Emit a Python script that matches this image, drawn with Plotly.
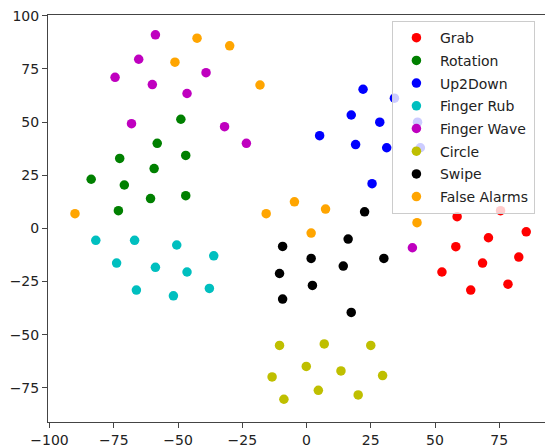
import plotly.graph_objects as go

labels = ["Grab", "Rotation", "Up2Down", "Finger Rub", "Finger Wave", "Circle", "Swipe", "False Alarms"]
colors = ["#ff0000", "#008000", "#0000ff", "#00bfbf", "#bf00bf", "#bfbf00", "#000000", "#ffa500"]

grab_x = [58.6, 75.5, 85.5, 70.8, 58.1, 82.6, 68.5, 52.7, 78.4, 63.9]
grab_y = [5.5, 8.3, -1.6, -4.4, -8.6, -13.5, -16.3, -20.5, -26.2, -29.0]

rotation_x = [-48.9, -58.1, -72.7, -47.0, -59.3, -83.8, -70.9, -60.7, -47.0, -73.2]
rotation_y = [51.3, 40.0, 32.9, 34.3, 28.1, 23.1, 20.4, 14.0, 15.4, 8.3]

up2down_x = [22.0, 17.4, 28.5, 5.1, 19.1, 31.2, 25.5, 34.2, 43.2, 44.3]
up2down_y = [65.4, 53.3, 49.9, 43.6, 39.4, 37.9, 21.0, 61.2, 49.9, 37.9]

fingerrub_x = [-82.0, -66.9, -50.5, -36.1, -73.9, -58.8, -46.5, -66.2, -51.8, -37.8]
fingerrub_y = [-5.6, -5.6, -7.8, -12.9, -16.3, -18.3, -20.5, -29.0, -31.7, -28.2]

fingerwave_x = [-58.8, -65.3, -74.5, -39.1, -60.0, -46.5, -68.1, -31.9, -23.4, 41.2]
fingerwave_y = [91.0, 79.5, 71.0, 73.2, 67.6, 63.4, 49.2, 47.8, 40.0, -9.1]

circle_x = [-10.5, 6.9, 25.0, -0.1, 13.4, -13.4, 29.6, 4.6, 20.1, -8.8]
circle_y = [-55.0, -54.3, -55.0, -64.9, -67.0, -69.8, -69.2, -76.1, -78.3, -80.3]

swipe_x = [22.6, 16.2, -9.3, 1.8, 14.3, 30.1, -10.5, 2.3, -9.3, 17.4]
swipe_y = [7.8, -5.0, -8.5, -14.1, -17.7, -14.1, -21.2, -26.8, -33.2, -39.5]

false_x = [-42.6, -29.9, -51.2, -18.1, -90.1, -15.7, -4.7, 7.4, 1.8, 43.0]
false_y = [89.4, 85.8, 78.1, 67.4, 6.9, 6.9, 12.5, 9.1, -2.2, 2.7]

xs = [grab_x, rotation_x, up2down_x, fingerrub_x, fingerwave_x, circle_x, swipe_x, false_x]
ys = [grab_y, rotation_y, up2down_y, fingerrub_y, fingerwave_y, circle_y, swipe_y, false_y]

x_ticks = [-100, -75, -50, -25, 0, 25, 50, 75]
y_ticks = [-75, -50, -25, 0, 25, 50, 75, 100]

fig = go.Figure()
for i, (lab, col) in enumerate(zip(labels, colors)):
    fig.add_trace(go.Scatter(
        x=xs[i], y=ys[i], mode="markers", name=lab,
        legendgroup=lab,
        marker=dict(color=col, size=9.5, line=dict(width=0)),
    ))

axis_common = dict(
    showgrid=False, zeroline=False, showline=True, linecolor="#444444", linewidth=1,
    ticks="outside", ticklen=5, tickwidth=1, tickcolor="#444444",
    tickfont=dict(family="DejaVu Sans", size=14, color="#222222"),
)
fig.update_xaxes(range=[-100.6, 92.8], tickvals=x_ticks, mirror=True, **axis_common)
fig.update_yaxes(range=[-91.0, 100.3], tickvals=y_ticks, mirror=False, **axis_common)

fig.update_layout(
    width=545, height=447,
    margin=dict(l=48, r=0, t=15, b=25),
    plot_bgcolor="white", paper_bgcolor="white",
    font=dict(family="DejaVu Sans", size=14, color="#222222"),
    showlegend=True,
    legend=dict(
        x=0.692, y=0.985, xanchor="left", yanchor="top",
        bgcolor="rgba(255,255,255,0.8)", bordercolor="#cccccc", borderwidth=1,
        font=dict(family="DejaVu Sans", size=14, color="#222222"),
        tracegroupgap=1.5, itemwidth=37,
    ),
)

fig.write_html(
    "out.html",
    config={"displayModeBar": False},
    post_script="document.body.style.margin='0';document.body.style.overflow='hidden';",
)
